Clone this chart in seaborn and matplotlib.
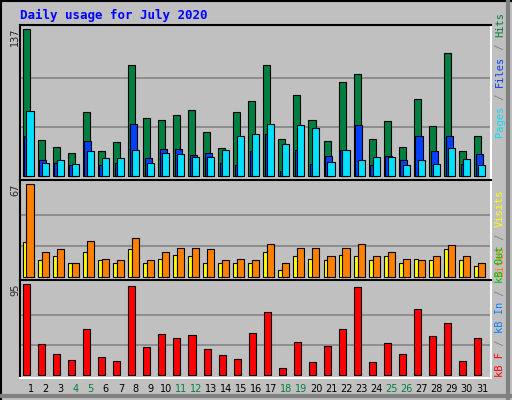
import matplotlib
matplotlib.use("Agg")
import matplotlib.pyplot as plt
import seaborn as sns
import numpy as np
import pandas as pd
from matplotlib.lines import Line2D

days = list(range(1, 32))
hits = [137, 34, 27, 22, 60, 23, 32, 104, 54, 52, 57, 62, 41, 26, 60, 70,
        104, 35, 76, 52, 33, 88, 95, 35, 51, 27, 72, 47, 115, 23, 37]
files = [37, 15, 12, 10, 33, 10, 12, 49, 17, 25, 25, 20, 22, 12, 10, 23,
         39, 5, 24, 11, 19, 24, 48, 10, 19, 15, 37, 23, 37, 11, 21]
pages = [61, 12, 15, 11, 23, 17, 17, 24, 12, 22, 21, 18, 18, 24, 37, 39,
         49, 30, 48, 45, 13, 24, 15, 18, 18, 10, 15, 11, 26, 16, 10]
visits = [25, 12, 15, 10, 18, 12, 10, 20, 10, 13, 16, 15, 10, 10, 10, 10,
          18, 5, 15, 13, 12, 16, 15, 12, 15, 10, 13, 12, 20, 12, 8]
sites = [67, 18, 20, 10, 26, 13, 12, 28, 12, 18, 21, 21, 20, 12, 13, 12,
         24, 10, 21, 21, 15, 21, 24, 15, 18, 13, 12, 15, 23, 15, 10]
kbytes = [95, 33, 22, 16, 48, 19, 15, 93, 30, 43, 39, 42, 27, 21, 17, 44,
          66, 8, 35, 14, 31, 48, 92, 14, 34, 22, 69, 41, 55, 15, 39]
weekend = [4, 5, 11, 12, 18, 19, 25, 26]

sns.set_style("white")
plt.rcParams['font.family'] = ['DejaVu Sans']

W, H = 512, 400
fig = plt.figure(figsize=(W / 100, H / 100), dpi=100)
fig.patch.set_facecolor('#C0C0C0')


def box(x0, y0, x1, y1):
    # pixel box (top-left origin) -> figure fraction
    return [x0 / W, 1 - y1 / H, (x1 - x0) / W, (y1 - y0) / H]


def fy(y):
    return 1 - y / H


# outer bevel
fig.add_artist(Line2D([0, 1], [fy(0.5), fy(0.5)], color='black', lw=1.5))
fig.add_artist(Line2D([0.5 / W, 0.5 / W], [0, 1], color='black', lw=1.5))
fig.add_artist(Line2D([0, 1], [fy(396), fy(396)], color='#808080', lw=3))
fig.add_artist(Line2D([508 / W, 508 / W], [0, 1], color='#808080', lw=3))

fig.text(20 / W, fy(15), 'Daily usage for July 2020', color='#0000FF',
         fontsize=9, fontweight='bold', family='DejaVu Sans Mono', va='center')

bw = 0.47
edge = dict(edgecolor='black', linewidth=0.8)


def panel(y0, y1, ylo, yhi, top):
    ax = fig.add_axes(box(20, y0, 491, y1))
    ax.set_facecolor('#C0C0C0')
    ax.set_xlim(0.3, 31.6)
    ax.set_ylim(ylo, yhi)
    for f in (1 / 3, 2 / 3):
        ax.axhline(top * f, color='#808080', lw=1.1, zorder=0)
    ax.set_xticks([])
    ax.set_yticks([])
    for s in ('top', 'left'):
        ax.spines[s].set_color('black')
    for s in ('bottom', 'right'):
        ax.spines[s].set_color('white')
    for s in ax.spines.values():
        s.set_linewidth(1.5)
    return ax


d = np.array(days, dtype=float)

ax1 = panel(25, 180, -3.7, 141.2, 137)
ax1.bar(d - 0.53, hits, width=bw, align='edge', color='#008040', **edge)
ax1.bar(d - 0.42, files, width=bw, align='edge', color='#0040FF', **edge)
ax1.bar(d - 0.27, pages, width=bw, align='edge', color='#00E0FF', **edge)

ax2 = panel(180, 280, -2.4, 70.1, 67)
ax2.bar(d - 0.53, visits, width=0.28, align='edge', color='#FFFF00', **edge)
ax2.bar(d - 0.27, sites, width=bw, align='edge', color='#FF8000', **edge)

ax3 = panel(280, 378, -2.8, 99.5, 95)
df = pd.DataFrame({'pos': d - 0.27, 'kb': kbytes})
sns.barplot(data=df, x='pos', y='kb', native_scale=True, width=bw,
            color='#FF0000', saturation=1, ax=ax3, **edge)
ax3.set_xlim(0.3, 31.6)
ax3.set_ylim(-2.8, 99.5)
ax3.set_xlabel('')
ax3.set_ylabel('')
ax3.set_xticks([])
ax3.set_yticks([])

# max labels
for y, t in ((37, '137'), (190, '67'), (290, '95')):
    fig.text(15 / W, fy(y), t, rotation=90, fontsize=7, ha='center', va='center')

# day labels
for i in days:
    x = 20 + (i - 0.3) / 31.3 * 471
    fig.text(x / W, fy(389), str(i), fontsize=7, ha='center', va='center',
             color='#008040' if i in weekend else 'black')

renderer = fig.canvas.get_renderer()


def side(ybottom, parts):
    y = ybottom
    for txt, col in parts:
        t = fig.text(500 / W, fy(y), txt, rotation=90, color=col, fontsize=7.5,
                     family='DejaVu Sans Mono', ha='center', va='bottom')
        y -= t.get_window_extent(renderer).height


side(137, [('Pages', '#00E0FF'), (' / ', '#808080'), ('Files', '#0040FF'),
           (' / ', '#808080'), ('Hits', '#008040')])
side(277, [('Sites', '#FF8000'), (' / ', '#808080'), ('Visits', '#FFFF00')])
side(377, [('kB F', '#FF0000'), (' / ', '#808080'), ('kB In', '#0080FF'),
           (' / ', '#808080'), ('kB Out', '#00C000')])

fig.savefig('out.png', dpi=100, facecolor=fig.get_facecolor())
